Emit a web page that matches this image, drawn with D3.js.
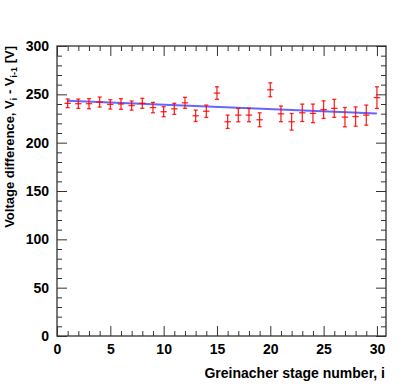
<!DOCTYPE html>
<html>
<head>
<meta charset="utf-8">
<title>Greinacher stage voltage difference</title>
<style>
body { margin: 0; background: #fff; }
svg text { font-family: "Liberation Sans", Arial, Helvetica, sans-serif; font-weight: bold; }
.axis path { display: none; }
.axis line { stroke: #333; stroke-width: 1; }
</style>
</head>
<body>
<svg width="407" height="391"></svg>
<script src="https://d3js.org/d3.v7.min.js"></script>
<script>
// stage number, measured difference and its error
var stages = d3.range(1, 31);
var voltDiff = [240.7, 240.3, 240.3, 242.0, 239.6, 240.0, 238.4, 240.7, 236.3, 232.0,
                235.0, 241.2, 227.8, 232.5, 251.3, 221.6, 228.5, 228.5, 223.7, 254.7,
                229.8, 221.6, 230.9, 230.3, 234.2, 235.5, 226.4, 227.0, 228.5, 246.6];
var voltErr = [4.5, 4.8, 5.2, 5.2, 4.8, 5.5, 4.7, 5.2, 5.4, 5.2,
               5.7, 5.7, 5.9, 6.4, 6.5, 6.9, 6.9, 6.9, 7.2, 7.2,
               8.1, 8.6, 9.0, 9.6, 9.1, 9.3, 10.0, 10.0, 10.4, 11.2];
var stageErr = 0.3;

// linear fit end points
var fitX = [1, 30];
var fitY = [243.4, 230.3];

var xMajor = [0, 5, 10, 15, 20, 25, 30];
var yMajor = [0, 50, 100, 150, 200, 250, 300];

var svg = d3.select("svg");
var padL = 57, padR = 386, padT = 46, padB = 336;

var x = d3.scaleLinear().domain([0, 30.85]).range([padL, padR]);
var y = d3.scaleLinear().domain([0, 300]).range([padB, padT]);

var xMinor = d3.range(0, 31).filter(function(d){ return xMajor.indexOf(d) < 0; });
var yMinor = d3.range(0, 301, 10).filter(function(d){ return yMajor.indexOf(d) < 0; });

function drawAxis(axis, tr) {
    return svg.append("g").attr("class", "axis").attr("transform", tr).call(axis);
}

// bottom
var gx = drawAxis(d3.axisBottom(x).tickValues(xMajor).tickSize(-10).tickPadding(6).tickFormat(d3.format("d")),
    "translate(0," + padB + ")");
drawAxis(d3.axisBottom(x).tickValues(xMinor).tickSize(-5).tickFormat(""), "translate(0," + padB + ")");
// top
drawAxis(d3.axisTop(x).tickValues(xMajor).tickSize(-10).tickFormat(""), "translate(0," + padT + ")");
drawAxis(d3.axisTop(x).tickValues(xMinor).tickSize(-5).tickFormat(""), "translate(0," + padT + ")");
// left
var gy = drawAxis(d3.axisLeft(y).tickValues(yMajor).tickSize(-10).tickPadding(8).tickFormat(d3.format("d")),
    "translate(" + padL + ",0)");
drawAxis(d3.axisLeft(y).tickValues(yMinor).tickSize(-5).tickFormat(""), "translate(" + padL + ",0)");
// right
drawAxis(d3.axisRight(y).tickValues(yMajor).tickSize(-10).tickFormat(""), "translate(" + padR + ",0)");
drawAxis(d3.axisRight(y).tickValues(yMinor).tickSize(-5).tickFormat(""), "translate(" + padR + ",0)");

svg.selectAll(".axis text").style("font-size", "14px").attr("fill", "#000");
gx.selectAll("text").attr("dy", "0.85em");

// frame
svg.append("rect")
    .attr("x", padL).attr("y", padT)
    .attr("width", padR - padL).attr("height", padB - padT)
    .attr("fill", "none").attr("stroke", "#333").attr("stroke-width", 1.3);

// fit line
svg.append("line")
    .attr("x1", x(fitX[0])).attr("y1", y(fitY[0]))
    .attr("x2", x(fitX[1])).attr("y2", y(fitY[1]))
    .attr("stroke", "#0000ff").attr("stroke-opacity", 0.6).attr("stroke-width", 2);

// data points with error bars
var pts = svg.append("g").attr("stroke", "#ff0000").attr("stroke-width", 1.3).attr("stroke-opacity", 0.85)
    .selectAll("g").data(stages).enter().append("g");

pts.append("line")
    .attr("x1", function(d){ return x(d); }).attr("x2", function(d){ return x(d); })
    .attr("y1", function(d, i){ return y(voltDiff[i] - voltErr[i]); })
    .attr("y2", function(d, i){ return y(voltDiff[i] + voltErr[i]); });
pts.append("line")
    .attr("x1", function(d){ return x(d - stageErr); }).attr("x2", function(d){ return x(d + stageErr); })
    .attr("y1", function(d, i){ return y(voltDiff[i]); })
    .attr("y2", function(d, i){ return y(voltDiff[i]); });
[-1, 1].forEach(function(s){
    pts.append("line")
        .attr("x1", function(d){ return x(d) - 2; }).attr("x2", function(d){ return x(d) + 2; })
        .attr("y1", function(d, i){ return y(voltDiff[i] + s * voltErr[i]); })
        .attr("y2", function(d, i){ return y(voltDiff[i] + s * voltErr[i]); });
});

// axis titles
svg.append("text")
    .attr("x", 385).attr("y", 378)
    .attr("text-anchor", "end")
    .style("font-size", "14px")
    .text("Greinacher stage number, i");

var yt = svg.append("text")
    .attr("transform", "translate(14,46) rotate(-90)")
    .attr("text-anchor", "end")
    .style("font-size", "13px");
yt.append("tspan").text("Voltage difference, V");
yt.append("tspan").attr("dy", 3).style("font-size", "9px").text("i");
yt.append("tspan").attr("dy", -3).text(" - V");
yt.append("tspan").attr("dy", 3).style("font-size", "9px").text("i-1");
yt.append("tspan").attr("dy", -3).text(" [V]");
</script>
</body>
</html>
